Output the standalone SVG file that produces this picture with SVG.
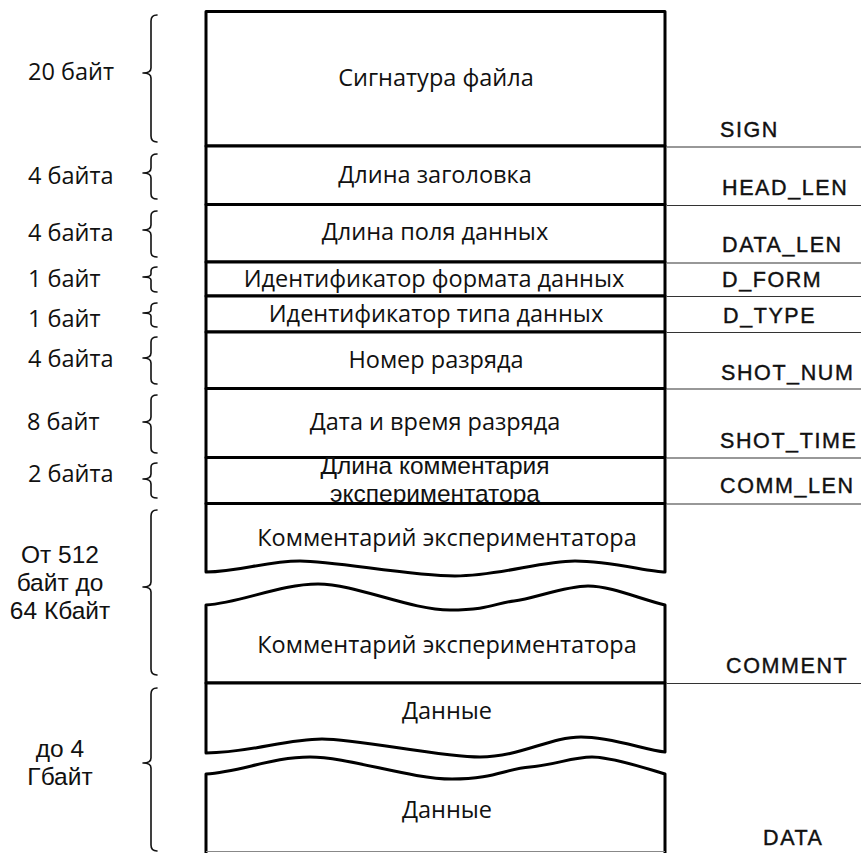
<svg xmlns="http://www.w3.org/2000/svg" width="861" height="853" viewBox="0 0 861 853">
<style>
  .box { fill: #fff; stroke: #000; stroke-width: 3; stroke-linejoin: round; stroke-linecap: round; }
  .t { font-family: "Open Sans", "Liberation Sans", Arial, sans-serif; font-size: 23.5px; fill: #111; text-anchor: middle; }
  .l { font-family: "Open Sans", "Liberation Sans", Arial, sans-serif; font-size: 23.5px; fill: #111; }
  .m { font-family: "Liberation Sans", Arial, sans-serif; font-size: 24.5px; fill: #111; text-anchor: middle; }
  .r { font-family: "Liberation Sans", Arial, sans-serif; font-size: 21.5px; fill: #111; stroke: #111; stroke-width: 0.4; letter-spacing: 1.6px; }
  .br { fill: none; stroke: #111; stroke-width: 1.6; stroke-linecap: round; stroke-linejoin: round; }
  .lead { stroke: #333; stroke-width: 1.2; }
</style>
<rect width="861" height="853" fill="#fff"/>

<g id="sign">
  <rect class="box" x="206" y="11.5" width="459" height="134.5"/>
  <text class="t" x="436" y="86">Сигнатура файла</text>
  <text class="r" x="720" y="137">SIGN</text>
</g>
<g id="head_len">
  <rect class="box" x="206" y="146" width="459" height="58.5"/>
  <text class="t" x="435" y="183">Длина заголовка</text>
  <text class="r" x="722" y="195">HEAD_LEN</text>
</g>
<g id="data_len">
  <rect class="box" x="206" y="204.5" width="459" height="57.5"/>
  <text class="t" x="435" y="240">Длина поля данных</text>
  <text class="r" x="722" y="252">DATA_LEN</text>
</g>
<g id="d_form">
  <rect class="box" x="206" y="262" width="459" height="34"/>
  <text class="t" x="434" y="287">Идентификатор формата данных</text>
  <text class="r" x="722" y="287">D_FORM</text>
</g>
<g id="d_type">
  <rect class="box" x="206" y="296" width="459" height="36"/>
  <text class="t" x="436" y="322">Идентификатор типа данных</text>
  <text class="r" x="723" y="323">D_TYPE</text>
</g>
<g id="shot_num">
  <rect class="box" x="206" y="332" width="459" height="56.5"/>
  <text class="t" x="436" y="368">Номер разряда</text>
  <text class="r" x="721" y="380">SHOT_NUM</text>
</g>
<g id="shot_time">
  <rect class="box" x="206" y="388.5" width="459" height="69"/>
  <text class="t" x="435" y="430">Дата и время разряда</text>
  <text class="r" x="720" y="448">SHOT_TIME</text>
</g>
<g id="comm_len">
  <rect class="box" x="206" y="457.5" width="459" height="46"/>
  <text class="m" x="435" y="474">Длина комментария<tspan x="435" dy="28">экспериментатора</tspan></text>
  <text class="r" x="720" y="493">COMM_LEN</text>
</g>
<g id="comment">
  <path class="box" d="M206,572 C240,572 265,561 300,561 S410,576 455,576 S540,561 575,561 S650,572 665,572 L665,503.5 L206,503.5 Z"/>
  <text class="t" x="447" y="546">Комментарий экспериментатора</text>
  <path class="box" d="M206,605 C240,603 280,584 318,584 S410,610 450,610 S495,603 514,601 S565,586 588,586 S640,599 665,605 L665,683 L206,683 Z"/>
  <text class="t" x="447" y="653">Комментарий экспериментатора</text>
  <text class="r" x="726" y="673">COMMENT</text>
</g>
<g id="data">
  <path class="box" d="M206,753 C250,753 285,739 322,739 S440,757 480,757 S550,737 581,737 S645,750 665,752 L665,683 L206,683 Z"/>
  <text class="t" x="447" y="719">Данные</text>
  <path class="box" d="M206,856 L206,774 C240,772 272,757 310,757 S410,779 452,779 S505,769 530,767 S572,757 592,757 S645,768 665,774 L665,856"/>
  <line x1="206" y1="851.5" x2="665" y2="851.5" stroke="#888" stroke-width="1"/>
  <text class="t" x="447" y="818">Данные</text>
  <text class="r" x="763" y="845">DATA</text>
</g>

<g id="sizes">
  <text class="l" x="28" y="80">20 байт</text>
  <path class="br" d="M157,15 Q151,15 151,21 L151,68 Q151,73 143,73 Q151,73 151,78 L151,136 Q151,142 157,142"/>
  <text class="l" x="28" y="184">4 байта</text>
  <path class="br" d="M157,154 Q151,154 151,159 L151,168 Q151,173 143,173 Q151,173 151,178 L151,194 Q151,199 157,199"/>
  <text class="l" x="28" y="241">4 байта</text>
  <path class="br" d="M157,211 Q151,211 151,216 L151,225 Q151,230 143,230 Q151,230 151,235 L151,252 Q151,257 157,257"/>
  <text class="l" x="28" y="287">1 байт</text>
  <path class="br" d="M157,267 Q151,267 151,271 L151,274 Q151,277 143,277 Q151,277 151,280 L151,288 Q151,292 157,292"/>
  <text class="l" x="28" y="327">1 байт</text>
  <path class="br" d="M157,303 Q151,303 151,307 L151,310 Q151,313 143,313 Q151,313 151,316 L151,323 Q151,327 157,327"/>
  <text class="l" x="28" y="367">4 байта</text>
  <path class="br" d="M157,337 Q151,337 151,342 L151,353 Q151,358 143,358 Q151,358 151,363 L151,379 Q151,384 157,384"/>
  <text class="l" x="27" y="430">8 байт</text>
  <path class="br" d="M157,395 Q151,395 151,400 L151,417 Q151,422 143,422 Q151,422 151,427 L151,448 Q151,453 157,453"/>
  <text class="l" x="28" y="482">2 байта</text>
  <path class="br" d="M157,463 Q151,463 151,467 L151,474 Q151,479 143,479 Q151,479 151,484 L151,494 Q151,498 157,498"/>
  <text class="m" x="60" y="563">От 512<tspan x="60" dy="28">байт до</tspan><tspan x="60" dy="28">64 Кбайт</tspan></text>
  <path class="br" d="M157,510 Q151,510 151,516 L151,582 Q151,587 143,587 Q151,587 151,592 L151,669 Q151,675 157,675"/>
  <text class="m" x="60" y="757">до 4<tspan x="60" dy="28">Гбайт</tspan></text>
  <path class="br" d="M157,688 Q151,688 151,694 L151,758 Q151,763 143,763 Q151,763 151,768 L151,845 Q151,851 157,851"/>
</g>

<g id="connectors">
  <line class="lead" x1="667" y1="147" x2="861" y2="147"/>
  <line class="lead" x1="667" y1="205.5" x2="861" y2="205.5"/>
  <line class="lead" x1="667" y1="263" x2="861" y2="263"/>
  <line class="lead" x1="667" y1="296.5" x2="861" y2="296.5"/>
  <line class="lead" x1="667" y1="332.5" x2="861" y2="332.5"/>
  <line class="lead" x1="667" y1="389" x2="861" y2="389"/>
  <line class="lead" x1="667" y1="458" x2="861" y2="458"/>
  <line class="lead" x1="667" y1="504" x2="861" y2="504"/>
  <line class="lead" x1="667" y1="683.5" x2="861" y2="683.5"/>
</g>
</svg>
